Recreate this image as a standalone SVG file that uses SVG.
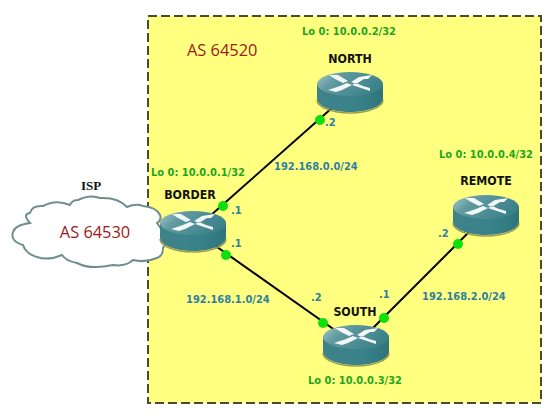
<svg xmlns="http://www.w3.org/2000/svg" width="559" height="419" viewBox="0 0 559 419">
<style>
.name{font:bold 12.3px "DejaVu Sans Condensed","DejaVu Sans",sans-serif;fill:#111;text-anchor:middle}
.lo{font:bold 11px "DejaVu Sans Condensed","DejaVu Sans",sans-serif;fill:#1fa51f}
.ip{font:bold 11px "DejaVu Sans Condensed","DejaVu Sans",sans-serif;fill:#2f7fa0}
.as{font:16.4px "Open Sans","DejaVu Sans",sans-serif;fill:#9c1a1a}
.link{stroke:#000;stroke-width:2;fill:none}
.dot{fill:#0ee00e}
</style>
<defs>
<linearGradient id="top" x1="0" y1="0" x2="1" y2="0.4"><stop offset="0" stop-color="#a8c6ca"/><stop offset="0.35" stop-color="#5f9aa0"/><stop offset="1" stop-color="#3c8289"/></linearGradient>
<linearGradient id="side" x1="0" y1="0" x2="1" y2="0"><stop offset="0" stop-color="#3f8289"/><stop offset="0.6" stop-color="#39828a"/><stop offset="1" stop-color="#2f747b"/></linearGradient>
<g id="router">
<path d="M-33 -6V9C-33 16 -18 22 0 22S33 16 33 9V-6Z" fill="url(#side)"/>
<path d="M-33 10C-33 17 -18 23 0 23S33 17 33 10" fill="none" stroke="#9a9a50" stroke-width="1.5"/>
<ellipse cx="0" cy="-6" rx="33" ry="12" fill="url(#top)"/>
<path d="M-21 -15L-12 -15L-2 -9L-7 -7L-15 -11ZM-22 0L-10 -4L-3 -7L2 -5L-8 0L-14 2ZM22 -15L9 -13L1 -8L6 -6L14 -11L18 -11ZM20 1L8 -3L2 -5L6 -7L13 -4L20 -2Z" fill="#f2f6f6"/>
</g>
</defs>
<rect width="559" height="419" fill="#fff"/>
<rect id="as-area" x="148" y="16" width="393" height="387" fill="#ffff80" stroke="#4a4a35" stroke-width="2" stroke-dasharray="9 4"/>
<text class="as" x="187" y="56">AS 64520</text>
<g id="connectors">
<line class="link" x1="193" y1="231" x2="350" y2="92"/>
<line class="link" x1="193" y1="230" x2="356" y2="345"/>
<line class="link" x1="356" y1="345" x2="486" y2="215"/>
</g>
<g id="isp">
<path d="M30 223Q22 214 30 213Q32 205 43 206Q56 199 70 205Q72 200 78 200Q90 194 100 198Q118 197 127 207Q136 203 143 206Q156 207 160 215Q162 220 157 223Q170 240 163 248Q163 256 157 258Q145 263 133 260Q125 267 113 265Q90 270 77 263Q66 261 62 255Q48 261 37 257Q26 254 23 245Q10 241 13 232Q15 225 30 223Z" fill="#fff" stroke="#6f8f8f" stroke-width="2"/>
<text class="as" x="95" y="238" text-anchor="middle">AS 64530</text>
<text x="91" y="190" text-anchor="middle" style="font:bold 13px 'Liberation Serif','DejaVu Serif',serif;fill:#111">ISP</text>
</g>
<g id="border">
<use href="#router" x="193" y="229"/>
<text class="name" x="190" y="199">BORDER</text>
<circle class="dot" cx="223" cy="206" r="5"/>
<circle class="dot" cx="226" cy="255" r="5"/>
<text class="ip" x="231" y="214">.1</text>
<text class="ip" x="231" y="247">.1</text>
<text class="lo" x="151" y="176">Lo 0: 10.0.0.1/32</text>
</g>
<g id="north">
<use href="#router" x="350" y="90"/>
<text class="name" x="350" y="63">NORTH</text>
<circle class="dot" cx="320" cy="120" r="5"/>
<text class="ip" x="325" y="126">.2</text>
<text class="lo" x="302" y="35">Lo 0: 10.0.0.2/32</text>
</g>
<g id="remote">
<use href="#router" x="486" y="213"/>
<text class="name" x="486" y="185">REMOTE</text>
<circle class="dot" cx="458" cy="244" r="5"/>
<text class="ip" x="438" y="237">.2</text>
<text class="lo" x="439" y="158">Lo 0: 10.0.0.4/32</text>
</g>
<g id="south">
<use href="#router" x="356" y="343"/>
<text class="name" x="355" y="316">SOUTH</text>
<circle class="dot" cx="323" cy="323" r="5"/>
<circle class="dot" cx="384" cy="318" r="5"/>
<text class="ip" x="311" y="301">.2</text>
<text class="ip" x="379" y="298">.1</text>
<text class="lo" x="308" y="384">Lo 0: 10.0.0.3/32</text>
</g>
<g id="labels">
<text class="ip" x="274" y="170">192.168.0.0/24</text>
<text class="ip" x="186" y="303">192.168.1.0/24</text>
<text class="ip" x="422" y="300">192.168.2.0/24</text>
</g>
</svg>
